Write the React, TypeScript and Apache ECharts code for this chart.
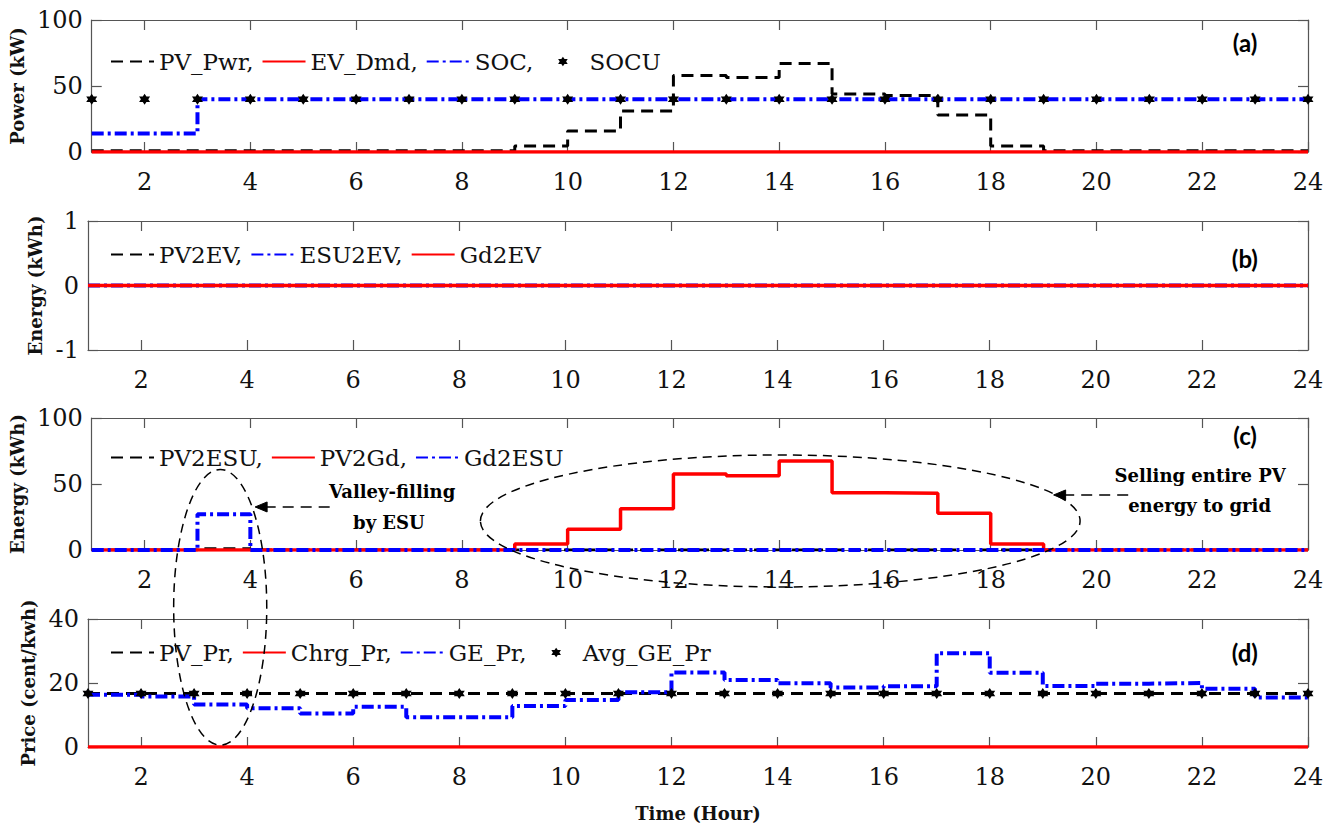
import React, { useEffect, useRef } from "react";
import * as echarts from "echarts";

// ---------- data ----------
const HOURS = [1, 2, 3, 4, 5, 6, 7, 8, 9, 10, 11, 12, 13, 14, 15, 16, 17, 18, 19, 20, 21, 22, 23, 24];
const X_TICKS = [2, 4, 6, 8, 10, 12, 14, 16, 18, 20, 22, 24];

// (a) power
const PV_PWR = [1, 1, 1, 1, 1, 1, 1, 1, 4.5, 16, 31, 58, 56.5, 67, 44, 42.8, 28, 4.5, 1, 1, 1, 1, 1, 1];
const EV_DMD = [0, 0, 0, 0, 0, 0, 0, 0, 0, 0, 0, 0, 0, 0, 0, 0, 0, 0, 0, 0, 0, 0, 0, 0];
const SOC = [14, 14, 40, 40, 40, 40, 40, 40, 40, 40, 40, 40, 40, 40, 40, 40, 40, 40, 40, 40, 40, 40, 40, 40];
const SOCU = [40, 40, 40, 40, 40, 40, 40, 40, 40, 40, 40, 40, 40, 40, 40, 40, 40, 40, 40, 40, 40, 40, 40, 40];

// (b) energy to EV
const PV2EV = [0, 0, 0, 0, 0, 0, 0, 0, 0, 0, 0, 0, 0, 0, 0, 0, 0, 0, 0, 0, 0, 0, 0, 0];
const ESU2EV = [0, 0, 0, 0, 0, 0, 0, 0, 0, 0, 0, 0, 0, 0, 0, 0, 0, 0, 0, 0, 0, 0, 0, 0];
const GD2EV = [0, 0, 0, 0, 0, 0, 0, 0, 0, 0, 0, 0, 0, 0, 0, 0, 0, 0, 0, 0, 0, 0, 0, 0];

// (c) energy flows
const PV2ESU = [0, 0, 1, 0, 0, 0, 0, 0, 0, 0, 0, 0, 0, 0, 0, 0, 0, 0, 0, 0, 0, 0, 0, 0];
const PV2GD = [0, 0, 0, 0, 0, 0, 0, 0, 4.5, 15.8, 31.3, 57.6, 56.3, 67.4, 43.4, 43, 27.8, 4.5, 0, 0, 0, 0, 0, 0];
const GD2ESU = [0, 0, 27, 0, 0, 0, 0, 0, 0, 0, 0, 0, 0, 0, 0, 0, 0, 0, 0, 0, 0, 0, 0, 0];

// (d) prices
const PV_PR = [16.7, 16.7, 16.7, 16.7, 16.7, 16.7, 16.7, 16.7, 16.7, 16.7, 16.7, 16.7, 16.7, 16.7, 16.7, 16.7, 16.7, 16.7, 16.7, 16.7, 16.7, 16.7, 16.7, 16.7];
const CHRG_PR = [0, 0, 0, 0, 0, 0, 0, 0, 0, 0, 0, 0, 0, 0, 0, 0, 0, 0, 0, 0, 0, 0, 0, 0];
const GE_PR = [16.3, 15.8, 13.3, 12.1, 10.5, 12.6, 9.3, 9.3, 12.8, 14.7, 17.1, 23.3, 20.9, 19.9, 18.6, 19.0, 29.3, 23.2, 19.1, 19.8, 20.0, 18.2, 15.5, 14.5];
const AVG_GE_PR = [16.7, 16.7, 16.7, 16.7, 16.7, 16.7, 16.7, 16.7, 16.7, 16.7, 16.7, 16.7, 16.7, 16.7, 16.7, 16.7, 16.7, 16.7, 16.7, 16.7, 16.7, 16.7, 16.7, 16.7];

const LEGENDS = [
  ["PV_Pwr", "EV_Dmd", "SOC", "SOCU"],
  ["PV2EV", "ESU2EV", "Gd2EV"],
  ["PV2ESU", "PV2Gd", "Gd2ESU"],
  ["PV_Pr", "Chrg_Pr", "GE_Pr", "Avg_GE_Pr"],
];
const MARKER_NAMES = ["SOCU", "Avg_GE_Pr"];
const PANEL_TAGS = ["(a)", "(b)", "(c)", "(d)"];
const Y_NAMES = ["Power (kW)", "Energy (kWh)", "Energy (kWh)", "Price (cent/kwh)"];
const Y_RANGES = [
  { min: 0, max: 100, interval: 50 },
  { min: -1, max: 1, interval: 1 },
  { min: 0, max: 100, interval: 50 },
  { min: 0, max: 40, interval: 20 },
];

// ---------- layout / style ----------
const GRID_LEFT = 88;
const GRID_WIDTH = 1220;
const GRIDS = [
  { top: 20, height: 132 },
  { top: 221, height: 129 },
  { top: 418, height: 132 },
  { top: 619, height: 128 },
];
const LEGEND_TOPS = [50, 243, 446, 641];
const Y_NAME_GAPS = [54, 41, 54, 42];
const TAG_POS = [82.6, 0.42, 87, 29.4];

const SERIF = "DejaVu Serif";
const FRAME = "#555";
const TEXT = "#111";

const BLACK_DASH = { color: "#000", width: 3, type: [12, 7] };
const RED = { color: "#ff0000", width: 3.5, type: "solid" };
const BLUE_DD = { color: "#0000ff", width: 4, type: [12, 4, 3, 4] };
const STAR = "path://M0,-10 L2.9,-5 L8.66,-5 L5.77,0 L8.66,5 L2.9,5 L0,10 L-2.9,5 L-8.66,5 L-5.77,0 L-8.66,-5 L-2.9,-5 Z";

const pts = (vals: number[]) => HOURS.map((h, i) => [h, vals[i]]);

const stair = (name: string, vals: number[], gi: number, style: any, z: number) => ({
  type: "line",
  name,
  xAxisIndex: gi * 2,
  yAxisIndex: gi * 2,
  step: "end",
  data: pts(vals),
  symbol: "none",
  showSymbol: false,
  lineStyle: style,
  itemStyle: { color: style.color },
  z,
});

const markers = (name: string, vals: number[], gi: number) => ({
  type: "line",
  name,
  xAxisIndex: gi * 2,
  yAxisIndex: gi * 2,
  data: pts(vals),
  symbol: STAR,
  symbolSize: 11,
  showSymbol: true,
  showAllSymbol: true,
  lineStyle: { width: 0, opacity: 0, color: "#000" },
  itemStyle: { color: "#000" },
  z: 10,
});

function buildOption() {
  const grid = GRIDS.map((g) => ({ left: GRID_LEFT, width: GRID_WIDTH, top: g.top, height: g.height }));
  const xAxis: any[] = [];
  const yAxis: any[] = [];
  GRIDS.forEach((_, gi) => {
    const baseX = {
      type: "value",
      gridIndex: gi,
      min: 1,
      max: 24,
      splitLine: { show: false },
      axisLine: { show: true, onZero: false, lineStyle: { color: FRAME, width: 1.2 } },
      axisTick: { show: true, inside: true, length: 10, customValues: X_TICKS, lineStyle: { color: FRAME, width: 1.2 } },
    };
    xAxis.push({
      ...baseX,
      position: "bottom",
      axisLabel: { customValues: X_TICKS, fontFamily: SERIF, fontSize: 24, color: TEXT, margin: 18 },
      ...(gi === 3
        ? {
            name: "Time (Hour)",
            nameLocation: "middle",
            nameGap: 57,
            nameTextStyle: { fontFamily: SERIF, fontWeight: "bold", fontSize: 18, color: TEXT },
          }
        : {}),
    });
    xAxis.push({ ...baseX, position: "top", axisLabel: { show: false } });
    const r = Y_RANGES[gi];
    const baseY = {
      type: "value",
      gridIndex: gi,
      min: r.min,
      max: r.max,
      interval: r.interval,
      splitLine: { show: false },
      axisLine: { show: true, onZero: false, lineStyle: { color: FRAME, width: 1.2 } },
      axisTick: { show: true, inside: true, length: 10, lineStyle: { color: FRAME, width: 1.2 } },
    };
    yAxis.push({
      ...baseY,
      position: "left",
      axisLabel: { fontFamily: SERIF, fontSize: 24, color: TEXT, margin: 9 },
      name: Y_NAMES[gi],
      nameLocation: "middle",
      nameRotate: 90,
      nameGap: Y_NAME_GAPS[gi],
      nameTextStyle: { fontFamily: SERIF, fontWeight: "bold", fontSize: 18, color: TEXT },
    });
    yAxis.push({ ...baseY, position: "right", axisLabel: { show: false } });
  });

  const legend = LEGENDS.map((names, gi) => ({
    data: names.map((n) =>
      MARKER_NAMES.indexOf(n) >= 0
        ? { name: n, lineStyle: { opacity: 0, width: 0 } }
        : { name: n, itemStyle: { opacity: 0 } }
    ),
    left: 110,
    top: LEGEND_TOPS[gi],
    orient: "horizontal",
    padding: 0,
    itemWidth: 43,
    itemHeight: 12,
    itemGap: 8,
    selectedMode: false,
    textStyle: { fontFamily: SERIF, fontSize: 23, color: TEXT },
    formatter: (n: string) => (n === names[names.length - 1] ? n : n + ","),
  }));

  const series = [
    stair("PV_Pwr", PV_PWR, 0, BLACK_DASH, 2),
    stair("EV_Dmd", EV_DMD, 0, RED, 3),
    stair("SOC", SOC, 0, BLUE_DD, 4),
    markers("SOCU", SOCU, 0),
    stair("PV2EV", PV2EV, 1, BLACK_DASH, 2),
    stair("ESU2EV", ESU2EV, 1, BLUE_DD, 3),
    stair("Gd2EV", GD2EV, 1, RED, 4),
    stair("PV2ESU", PV2ESU, 2, BLACK_DASH, 2),
    stair("PV2Gd", PV2GD, 2, RED, 3),
    stair("Gd2ESU", GD2ESU, 2, BLUE_DD, 4),
    stair("PV_Pr", PV_PR, 3, BLACK_DASH, 2),
    stair("Chrg_Pr", CHRG_PR, 3, RED, 3),
    stair("GE_Pr", GE_PR, 3, BLUE_DD, 4),
    markers("Avg_GE_Pr", AVG_GE_PR, 3),
  ];

  return {
    animation: false,
    backgroundColor: "#fff",
    grid,
    xAxis,
    yAxis,
    legend,
    series,
  };
}

function txt(x: number, y: number, text: string, family: string, size: number) {
  return {
    type: "text",
    z: 100,
    x,
    y,
    style: {
      text,
      fontFamily: family,
      fontSize: size,
      fontWeight: "bold",
      fill: "#000",
      align: "center",
      verticalAlign: "middle",
    },
  };
}

function arrow(x1: number, x2: number, y: number) {
  return [
    {
      type: "line",
      z: 100,
      shape: { x1, y1: y, x2: x2 + 2, y2: y },
      style: { stroke: "#000", lineWidth: 1.6, lineDash: [11, 7] },
    },
    {
      type: "polygon",
      z: 100,
      shape: { points: [[x2, y], [x2 + 12, y - 5], [x2 + 12, y + 5]] },
      style: { fill: "#000", stroke: "#000", lineWidth: 1 },
    },
  ];
}

function buildGraphic(chart: any) {
  const px = (gi: number, x: number, y: number) => chart.convertToPixel({ gridIndex: gi }, [x, y]) as number[];
  const els: any[] = [];

  const vTop = px(2, 3.43, 61);
  const vBot = px(3, 3.43, 0.6);
  const vSide = px(2, 4.31, 0);
  els.push({
    type: "ellipse",
    z: 100,
    shape: { cx: vTop[0], cy: (vTop[1] + vBot[1]) / 2, rx: vSide[0] - vTop[0], ry: (vBot[1] - vTop[1]) / 2 },
    style: { fill: "none", stroke: "#000", lineWidth: 1.5, lineDash: [9, 6] },
  });

  const sC = px(2, 14.02, 22);
  const sE = px(2, 19.69, 72);
  els.push({
    type: "ellipse",
    z: 100,
    shape: { cx: sC[0], cy: sC[1], rx: sE[0] - sC[0], ry: sC[1] - sE[1] },
    style: { fill: "none", stroke: "#000", lineWidth: 1.5, lineDash: [9, 6] },
  });

  const a1s = px(2, 5.5, 32.6);
  const a1e = px(2, 4.09, 32.6);
  els.push(...arrow(a1s[0], a1e[0], a1s[1]));
  const a2s = px(2, 20.6, 41.7);
  const a2e = px(2, 19.19, 41.7);
  els.push(...arrow(a2s[0], a2e[0], a2s[1]));

  const t1 = px(2, 6.68, 44);
  const t2 = px(2, 6.62, 21);
  els.push(txt(t1[0], t1[1], "Valley-filling", SERIF, 18));
  els.push(txt(t2[0], t2[1], "by ESU", SERIF, 18));
  const t3 = px(2, 21.96, 56.8);
  const t4 = px(2, 21.95, 34);
  els.push(txt(t3[0], t3[1], "Selling entire PV", SERIF, 18));
  els.push(txt(t4[0], t4[1], "energy to grid", SERIF, 18));

  PANEL_TAGS.forEach((tag, gi) => {
    const p = px(gi, 22.81, TAG_POS[gi]);
    els.push(txt(p[0], p[1], tag, "Lato", 24));
  });
  return els;
}

export default function App() {
  const ref = useRef<HTMLDivElement>(null);
  useEffect(() => {
    const chart = echarts.init(ref.current as HTMLDivElement, null, { renderer: "svg" });
    chart.setOption(buildOption() as any);
    chart.setOption({ graphic: buildGraphic(chart) } as any);
    return () => chart.dispose();
  }, []);
  return (
    <div
      ref={ref}
      style={{ position: "fixed", left: 0, top: 0, width: 1338, height: 825, background: "#fff" }}
    />
  );
}
